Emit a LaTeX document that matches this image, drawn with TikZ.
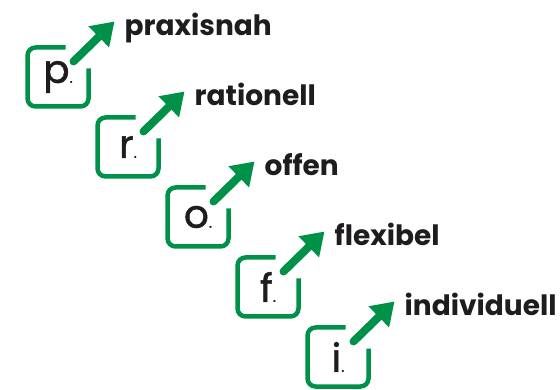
\documentclass[tikz,border=0pt]{standalone}
\usepackage{fontspec}
\setmainfont{Poppins}
\newfontfamily\letterfont{Poppins}[FakeBold=1.2]
\usepackage{xcolor}
\usetikzlibrary{arrows.meta,positioning}

\definecolor{probgreen}{RGB}{0,145,72}
\definecolor{probblack}{RGB}{30,28,30}

\newcommand{\smalldot}{{\fontsize{15}{15}\selectfont.}}

\tikzset{
    letterbox/.style={rectangle, minimum width=61pt, minimum height=59pt, inner sep=0pt, outer sep=0pt,
        font=\letterfont\fontsize{39}{39}\selectfont, text=probblack},
    frame/.style={draw=probgreen, line width=4.5pt, rounded corners=8pt},
    uparrow/.style={draw=probgreen, line width=8pt, line cap=round, -{Triangle[length=22pt,width=28pt]}},
    word/.style={anchor=base west, inner sep=0pt, font=\fontsize{28}{28}\selectfont\bfseries, text=probblack}
}

\begin{document}
\begin{tikzpicture}
    \useasboundingbox (0,0) rectangle (560pt,-390pt);

    \node (p) [letterbox] at (58pt,-77pt) {p\smalldot};
    \node (r) [letterbox, below right=11pt and 9pt of p] {r\smalldot};
    \node (o) [letterbox, below right=11pt and 9pt of r] {o\smalldot};
    \node (f) [letterbox, below right=11pt and 9pt of o] {f\smalldot};
    \node (i) [letterbox, below right=11pt and 9pt of f] {i\smalldot};

    \draw [frame] ([xshift=-23pt]p.north east) -- (p.north west) -- (p.south west) -- (p.south east) -- ([yshift=-21pt]p.north east);
    \draw [frame] ([xshift=-23pt]r.north east) -- (r.north west) -- (r.south west) -- (r.south east) -- ([yshift=-21pt]r.north east);
    \draw [frame] ([xshift=-23pt]o.north east) -- (o.north west) -- (o.south west) -- (o.south east) -- ([yshift=-21pt]o.north east);
    \draw [frame] ([xshift=-23pt]f.north east) -- (f.north west) -- (f.south west) -- (f.south east) -- ([yshift=-21pt]f.north east);
    \draw [frame] ([xshift=-23pt]i.north east) -- (i.north west) -- (i.south west) -- (i.south east) -- ([yshift=-21pt]i.north east);

    \coordinate (p-tip) at ([shift={(26pt,26pt)}]p.north east);
    \coordinate (r-tip) at ([shift={(26pt,26pt)}]r.north east);
    \coordinate (o-tip) at ([shift={(26pt,26pt)}]o.north east);
    \coordinate (f-tip) at ([shift={(26pt,26pt)}]f.north east);
    \coordinate (i-tip) at ([shift={(26pt,26pt)}]i.north east);

    \draw [uparrow] ([shift={(-15pt,-14pt)}]p.north east) -- (p-tip);
    \draw [uparrow] ([shift={(-15pt,-14pt)}]r.north east) -- (r-tip);
    \draw [uparrow] ([shift={(-15pt,-14pt)}]o.north east) -- (o-tip);
    \draw [uparrow] ([shift={(-15pt,-14pt)}]f.north east) -- (f-tip);
    \draw [uparrow] ([shift={(-15pt,-14pt)}]i.north east) -- (i-tip);

    \node (praxisnah) [word] at ([shift={(36pt,12pt)}]p.north east) {praxisnah};
    \node (rationell) [word] at ([shift={(36pt,12pt)}]r.north east) {rationell};
    \node (offen) [word] at ([shift={(36pt,12pt)}]o.north east) {offen};
    \node (flexibel) [word] at ([shift={(36pt,12pt)}]f.north east) {flexibel};
    \node (individuell) [word] at ([shift={(36pt,12pt)}]i.north east) {individuell};
\end{tikzpicture}
\end{document}
